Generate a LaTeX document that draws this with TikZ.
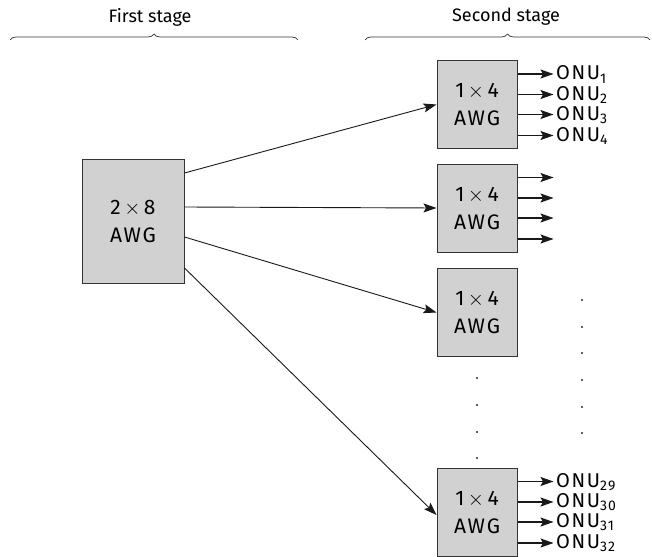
\documentclass[tikz,border=0pt]{standalone}
\usepackage{fontspec}
\setmainfont{Fira Sans}
\usetikzlibrary{arrows.meta,positioning,decorations.pathreplacing}

\begin{document}
\begin{tikzpicture}[
  x=1pt, y=-1pt, >={Stealth[length=13pt, width=9pt, inset=2.5pt]},
  awg/.style={draw=black!80, line width=1pt, fill=black!18,
              minimum width=80pt, minimum height=88pt,
              align=center, inner sep=0pt,
              font=\fontsize{21}{28}\selectfont\addfontfeature{LetterSpace=8}},
  link/.style={->, black!90, line width=0.9pt},
  port/.style={->, black!90, line width=1.1pt},
  onu/.style={anchor=west, inner sep=0pt,
              font=\fontsize{20}{20}\selectfont\addfontfeature{LetterSpace=8}},
  stage/.style={font=\fontsize{18}{18}\selectfont, inner sep=0pt},
  curly/.style={decorate, decoration={brace, amplitude=6pt}, black!80, line width=0.7pt},
]
  %% Canvas
  \useasboundingbox (0,0) rectangle (652,556);

  %% Stage labels and braces
  \node[stage] (st1) at (150,17) {First stage};
  \node[stage] (st2) at (506,17) {Second stage};
  \coordinate (b1l) at (10,40);  \coordinate (b1r) at (298,40);
  \coordinate (b2l) at (365,40); \coordinate (b2r) at (650,40);
  \draw[curly] (b1l) -- (b1r);
  \draw[curly] (b2l) -- (b2r);

  %% First-stage AWG
  \node[awg, minimum width=102pt, minimum height=124pt] (awg0) at (133,221)
    {2\,$\times$\,8\\AWG};

  %% Second-stage AWGs
  \node[awg] (awg1) at (477,104.5) {1\,$\times$\,4\\AWG};
  \node[awg] (awg2) at (477,208)   {1\,$\times$\,4\\AWG};
  \node[awg] (awg3) at (477,312.5) {1\,$\times$\,4\\AWG};
  \node[awg] (awg4) at (477,512)   {1\,$\times$\,4\\AWG};

  %% Links between the stages
  \draw[link] ([yshift=48pt]awg0.east)  -- (awg1.west);
  \draw[link] ([yshift=14pt]awg0.east)  -- (awg2.west);
  \draw[link] ([yshift=-16pt]awg0.east) -- (awg3.west);
  \draw[link] ([yshift=-47pt]awg0.east) -- ([yshift=-3pt]awg4.west);

  %% Output ports
  \foreach \b in {1,2,4}
    \foreach \dy in {30.5,10,-10,-31}
      \draw[port] ([yshift=\dy pt]awg\b.east) -- ++(36,0);

  %% ONU labels
  \node[onu] (onu1)  at (556,74.5)  {ONU\textsubscript{1}};
  \node[onu] (onu2)  at (556,95)    {ONU\textsubscript{2}};
  \node[onu] (onu3)  at (556,115)   {ONU\textsubscript{3}};
  \node[onu] (onu4)  at (556,136)   {ONU\textsubscript{4}};
  \node[onu] (onu29) at (556,482)   {ONU\textsubscript{29}};
  \node[onu] (onu30) at (556,502)   {ONU\textsubscript{30}};
  \node[onu] (onu31) at (556,522)   {ONU\textsubscript{31}};
  \node[onu] (onu32) at (556,543)   {ONU\textsubscript{32}};

  %% Ellipsis dots
  \foreach \y in {378,405,432,458}
    \fill[black!85] (477,\y) circle (1.1pt);
  \foreach \y in {300,327,353,380,407,433}
    \fill[black!85] (582,\y) circle (1.1pt);
\end{tikzpicture}
\end{document}
